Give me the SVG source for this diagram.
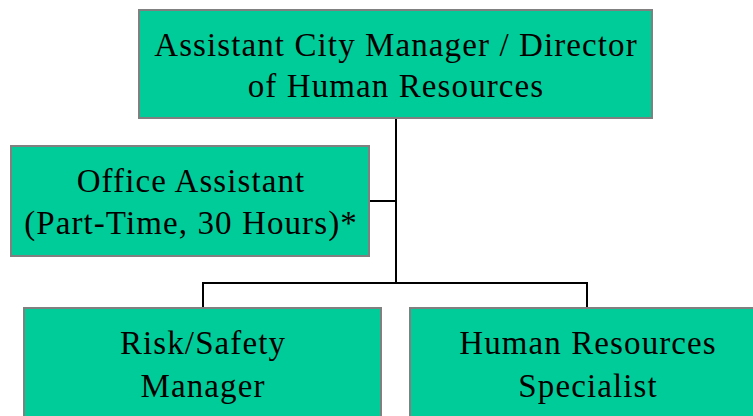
<svg xmlns="http://www.w3.org/2000/svg" width="753" height="416" viewBox="0 0 753 416">
<style>
.box{fill:#00CC99;stroke:#808080;stroke-width:2}
.t{font-family:"Liberation Serif",serif;font-size:33px;letter-spacing:1.1px;fill:#000;text-anchor:middle}
.c{stroke:#000;stroke-width:2;fill:none}
</style>
<rect width="753" height="416" fill="#fff"/>
<g id="connectors">
<path class="c" d="M396 118 V283"/>
<path class="c" d="M369 201 H396"/>
<path class="c" d="M203 308 V283 H587 V308"/>
</g>
<g id="director">
<rect class="box" x="139" y="10" width="513" height="108"/>
<text class="t" x="396" y="56">Assistant City Manager / Director</text>
<text class="t" x="396" y="97">of Human Resources</text>
</g>
<g id="office-assistant">
<rect class="box" x="11" y="146" width="358" height="110"/>
<text class="t" x="191" y="192">Office Assistant</text>
<text class="t" x="191" y="234">(Part-Time, 30 Hours)*</text>
</g>
<g id="risk-safety">
<rect class="box" x="24" y="308" width="357" height="112"/>
<text class="t" x="203" y="354">Risk/Safety</text>
<text class="t" x="203" y="397">Manager</text>
</g>
<g id="hr-specialist">
<rect class="box" x="410" y="308" width="346" height="112"/>
<text class="t" x="588" y="354">Human Resources</text>
<text class="t" x="588" y="397">Specialist</text>
</g>
</svg>
